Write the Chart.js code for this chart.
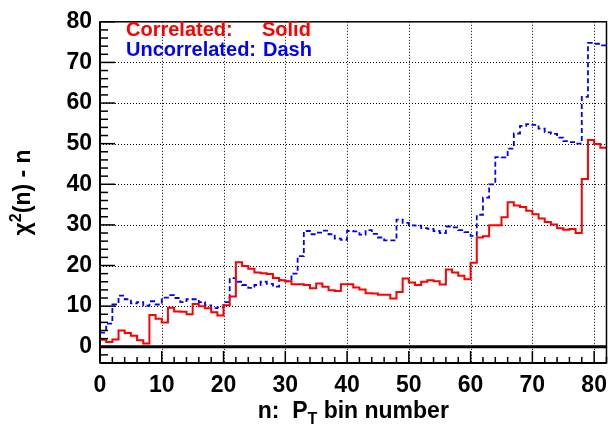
<!DOCTYPE html>
<html>
<head>
<meta charset="utf-8">
<script src="https://cdn.jsdelivr.net/npm/chart.js@4.4.0/dist/chart.umd.min.js"></script>
<style>
  html, body { margin: 0; padding: 0; background: #fff; }
  #wrap { width: 616px; height: 426px; }
</style>
</head>
<body>
<div id="wrap"><canvas id="chi2Chart" width="616" height="426"></canvas></div>
<script>
// chi2(n) - n for each pT bin
const correlated = [
  1.7, 1.2, 1.8, 4.0, 3.4, 2.7, 1.6, 0.8, 7.8, 6.9,
  6.0, 9.6, 8.7, 8.6, 8.0, 10.5, 10.0, 9.5, 8.5, 7.7,
  10.2, 12.4, 20.8, 19.9, 19.2, 18.3, 18.1, 17.9, 16.9, 16.4,
  16.1, 15.4, 15.4, 15.2, 14.4, 15.6, 14.8, 13.9, 13.7, 15.4,
  15.4, 14.6, 14.1, 13.2, 13.1, 12.8, 12.8, 11.9, 13.5, 16.8,
  15.8, 15.2, 16.0, 16.4, 16.1, 15.3, 19.0, 18.3, 17.5, 16.6,
  20.7, 26.9, 27.2, 29.9, 29.9, 31.9, 35.6, 34.8, 34.4, 33.5,
  32.6, 31.6, 30.7, 30.1, 29.2, 28.8, 29.0, 28.0, 41.3, 50.9,
  49.9, 49.0
];
const uncorrelated = [
  3.5, 5.7, 10.4, 12.6, 11.7, 10.7, 11.0, 10.1, 11.2, 10.4,
  12.1, 12.7, 12.0, 11.0, 11.7, 11.7, 11.0, 10.2, 9.5, 9.7,
  11.0, 16.9, 16.0, 15.2, 14.5, 15.2, 16.0, 15.5, 14.8, 16.4,
  16.1, 18.0, 22.3, 28.5, 27.7, 28.1, 28.6, 27.7, 26.6, 26.3,
  28.5, 28.4, 27.6, 28.7, 27.8, 26.9, 26.2, 26.2, 31.3, 30.5,
  29.9, 29.8, 29.2, 29.0, 28.5, 28.0, 29.6, 29.4, 28.7, 28.2,
  27.3, 32.5, 36.7, 40.0, 46.7, 46.6, 48.8, 52.5, 54.4, 54.8,
  54.6, 53.7, 52.8, 52.4, 51.5, 50.6, 50.4, 50.0, 61.5, 74.8,
  74.6, 74.2
];
const xTicks = [0, 10, 20, 30, 40, 50, 60, 70, 80];
const yTicks = [0, 10, 20, 30, 40, 50, 60, 70, 80];
const xRange = [0, 82];
const yRange = [-4, 80];

const FONT = "'Liberation Sans', Arial, Helvetica, sans-serif";

// histogram outline: one point per left bin edge plus the closing edge
function toSteps(values) {
  const pts = values.map((v, i) => ({ x: i, y: v }));
  pts.push({ x: values.length, y: values[values.length - 1] });
  return pts;
}

function seg(ctx, x1, y1, x2, y2) {
  ctx.beginPath();
  ctx.moveTo(x1, y1);
  ctx.lineTo(x2, y2);
  ctx.stroke();
}

// ROOT-like frame: dotted grid, inside ticks, titles and text legend
const rootStyle = {
  id: "rootStyle",
  beforeDatasetsDraw(chart) {
    const { ctx, chartArea: a, scales: { x, y } } = chart;
    ctx.save();
    ctx.strokeStyle = "#000";
    ctx.lineWidth = 1;
    ctx.setLineDash([1, 2]);
    xTicks.forEach((v) => {
      if (v <= xRange[0] || v >= xRange[1]) return;
      const px = Math.round(x.getPixelForValue(v)) + 0.5;
      seg(ctx, px, a.top, px, a.bottom);
    });
    yTicks.forEach((v) => {
      if (v <= 0 || v >= yRange[1]) return;
      const py = Math.round(y.getPixelForValue(v)) + 0.5;
      seg(ctx, a.left, py, a.right, py);
    });
    ctx.restore();
  },
  afterDatasetsDraw(chart) {
    const { ctx, chartArea: a, scales: { x, y } } = chart;
    ctx.save();
    ctx.strokeStyle = "#000";

    // zero line
    ctx.lineWidth = 3;
    const y0 = y.getPixelForValue(0);
    seg(ctx, a.left, y0, a.right, y0);

    // frame
    ctx.lineWidth = 1.5;
    ctx.strokeRect(a.left, a.top, a.right - a.left, a.bottom - a.top);
    ctx.lineWidth = 2;
    seg(ctx, a.left, a.top, a.left, a.bottom);
    seg(ctx, a.left, a.bottom, a.right, a.bottom);

    // ticks (inside), minor every 2
    ctx.lineWidth = 1.5;
    for (let v = xRange[0]; v <= xRange[1]; v += 2) {
      const px = x.getPixelForValue(v);
      const len = v % 10 === 0 ? 12 : 6;
      seg(ctx, px, a.bottom, px, a.bottom - len);
    }
    for (let v = -2; v <= yRange[1]; v += 2) {
      const py = y.getPixelForValue(v);
      const len = v % 10 === 0 ? 15 : 8;
      seg(ctx, a.left, py, a.left + len, py);
    }

    // x title with subscript
    ctx.fillStyle = "#000";
    ctx.textBaseline = "alphabetic";
    const big = "bold 23px " + FONT;
    const small = "bold 16px " + FONT;
    const parts = [
      { t: "n:  P", f: big, dy: 0 },
      { t: "T", f: small, dy: 6 },
      { t: " bin number", f: big, dy: 0 },
    ];
    let w = 0;
    parts.forEach((p) => { ctx.font = p.f; w += ctx.measureText(p.t).width; });
    let cx = (a.left + a.right) / 2 - w / 2;
    parts.forEach((p) => {
      ctx.font = p.f;
      ctx.fillText(p.t, cx, 418 + p.dy);
      cx += ctx.measureText(p.t).width;
    });

    // y title with superscript
    const yparts = [
      { t: "\u03c7", f: big, dy: 0 },
      { t: "2", f: small, dy: -9 },
      { t: "(n) - n", f: big, dy: 0 },
    ];
    w = 0;
    yparts.forEach((p) => { ctx.font = p.f; w += ctx.measureText(p.t).width; });
    ctx.translate(30, (a.top + a.bottom) / 2);
    ctx.rotate(-Math.PI / 2);
    cx = -w / 2;
    yparts.forEach((p) => {
      ctx.font = p.f;
      ctx.fillText(p.t, cx, p.dy);
      cx += ctx.measureText(p.t).width;
    });
    ctx.setTransform(1, 0, 0, 1, 0, 0);

    // legend text
    ctx.font = "bold 20px " + FONT;
    ctx.fillStyle = "#ff0000";
    ctx.fillText("Correlated:", 126, 36);
    ctx.fillText("Solid", 262, 36);
    ctx.fillStyle = "#0000ff";
    ctx.fillText("Uncorrelated:", 126, 56);
    ctx.fillText("Dash", 263, 56);
    ctx.restore();
  },
};

const ctx = document.getElementById("chi2Chart").getContext("2d");
const chi2Chart = new Chart(ctx, {
  type: "line",
  data: {
    datasets: [
      {
        label: "Correlated",
        data: toSteps(correlated),
        stepped: "before",
        borderColor: "#ff0000",
        borderWidth: 2,
        pointRadius: 0,
        fill: false,
      },
      {
        label: "Uncorrelated",
        data: toSteps(uncorrelated),
        stepped: "before",
        borderColor: "#0000ff",
        borderWidth: 1.8,
        borderDash: [5, 3],
        pointRadius: 0,
        fill: false,
      },
    ],
  },
  options: {
    responsive: false,
    animation: false,
    layout: { padding: { left: 0, right: 3, top: 16, bottom: 0 } },
    scales: {
      x: {
        type: "linear",
        min: xRange[0],
        max: xRange[1],
        afterBuildTicks: (s) => { s.ticks = xTicks.map((v) => ({ value: v })); },
        afterFit: (s) => { s.height = 63; },
        ticks: {
          color: "#000",
          font: { family: FONT, size: 23, weight: "bold" },
          padding: 9,
          maxRotation: 0,
        },
        grid: { display: false, drawTicks: false },
        border: { display: false },
      },
      y: {
        type: "linear",
        min: yRange[0],
        max: yRange[1],
        afterBuildTicks: (s) => { s.ticks = yTicks.map((v) => ({ value: v })); },
        afterFit: (s) => { s.width = 100; },
        ticks: {
          color: "#000",
          font: { family: FONT, size: 23, weight: "bold" },
          padding: 8,
        },
        grid: { display: false, drawTicks: false },
        border: { display: false },
      },
    },
    plugins: {
      legend: { display: false },
      tooltip: { enabled: false },
    },
  },
  plugins: [rootStyle],
});
</script>
</body>
</html>
